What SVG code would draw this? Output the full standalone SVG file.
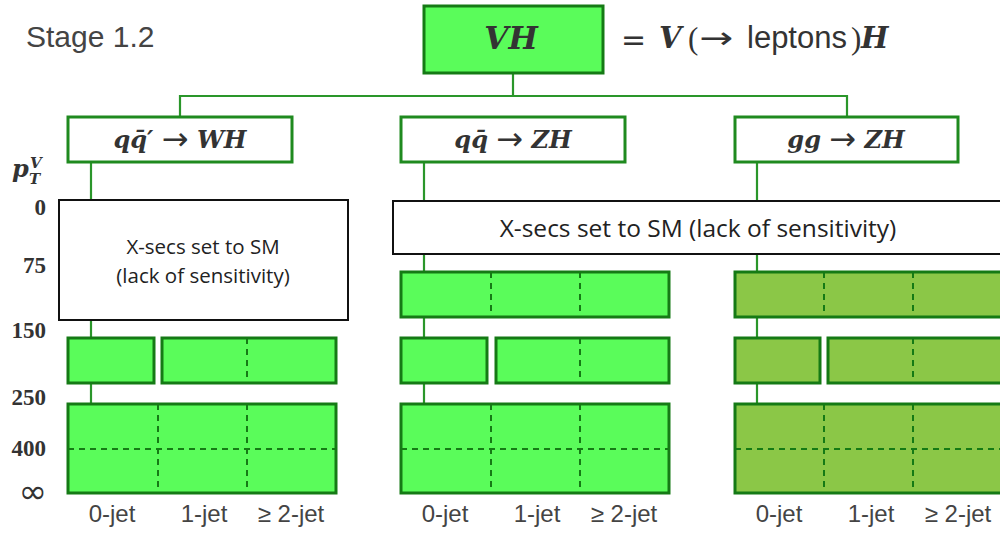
<svg xmlns="http://www.w3.org/2000/svg" width="1000" height="547" viewBox="0 0 1000 547">
<style>
.con{stroke:#2a962a;stroke-width:2.2;fill:none}
.hdr{fill:#fff;stroke:#1f8a1f;stroke-width:3}
.g1{fill:#5afc5a;stroke:#157a15;stroke-width:3}
.g2{fill:#8bc747;stroke:#157a15;stroke-width:3}
.dash{stroke:#157a15;stroke-width:2;stroke-dasharray:6 5;fill:none}
.wb{fill:#fff;stroke:#111;stroke-width:2}
.math{font-family:"DejaVu Serif",serif;font-weight:bold;font-style:italic;fill:#333}
.ax{font-family:"Liberation Serif",serif;font-weight:bold;font-size:23px;fill:#333;text-anchor:end}
.inf{font-family:"DejaVu Sans",sans-serif;font-size:34px;fill:#333;text-anchor:end}
.jet{font-family:"Liberation Sans",Arial,sans-serif;font-size:24px;fill:#444;text-anchor:middle}
.note{font-family:"Open Sans","Liberation Sans",sans-serif;fill:#222;text-anchor:middle}
.arr{font-family:"DejaVu Sans",sans-serif;font-style:normal;font-weight:normal;font-size:32px}
</style>
<rect width="1000" height="547" fill="#fff"/>
<text x="26" y="47" font-family="Liberation Sans, Arial, sans-serif" font-size="30" fill="#444">Stage 1.2</text>

<g id="connectors">
<path class="con" d="M513 73V96M180 117V96H847V117"/>
<path class="con" d="M91 162V404M424 162V404M757 162V404"/>
</g>

<g id="VH">
<rect x="424" y="6" width="179" height="67" class="g1"/>
<text x="511" y="49" class="math" font-size="31" text-anchor="middle">VH</text>
</g>
<g id="VH-def" fill="#333">
<text x="621" y="50" font-family="DejaVu Sans, sans-serif" font-size="30">=</text>
<text x="659" y="48" class="math" font-size="29">V</text>
<text x="688" y="49" font-family="Liberation Serif, serif" font-size="31">(</text>
<text x="699" y="48" font-family="DejaVu Sans, sans-serif" font-size="30" textLength="34" lengthAdjust="spacingAndGlyphs">→</text>
<text x="747" y="48" font-family="Liberation Sans, Arial, sans-serif" font-size="31">leptons</text>
<text x="851" y="49" font-family="Liberation Serif, serif" font-size="31">)</text>
<text x="861" y="48" class="math" font-size="29">H</text>
</g>

<g id="WH-header">
<rect x="68" y="117" width="224" height="45" class="hdr"/>
<text x="180" y="148" class="math" font-size="24" text-anchor="middle">qq̄′ <tspan class="arr" dy="2">→</tspan><tspan dy="-2"> WH</tspan></text>
</g>
<g id="ZH-header">
<rect x="401" y="117" width="224" height="45" class="hdr"/>
<text x="513" y="148" class="math" font-size="24" text-anchor="middle">qq̄ <tspan class="arr" dy="2">→</tspan><tspan dy="-2"> ZH</tspan></text>
</g>
<g id="ggZH-header">
<rect x="735" y="117" width="223" height="45" class="hdr"/>
<text x="846" y="148" class="math" font-size="24" text-anchor="middle">gg <tspan class="arr" dy="2">→</tspan><tspan dy="-2"> ZH</tspan></text>
</g>

<g id="axis">
<text x="12" y="177" class="math" font-size="24">p</text>
<text x="30" y="168" class="math" font-size="15">V</text>
<text x="29" y="184" class="math" font-size="15">T</text>
<text x="46" y="215" class="ax">0</text>
<text x="46" y="273" class="ax">75</text>
<text x="46" y="338" class="ax">150</text>
<text x="46" y="405" class="ax">250</text>
<text x="46" y="456" class="ax">400</text>
<text x="47" y="503" class="inf">∞</text>
</g>

<g id="WH-bins">
<rect x="68" y="338" width="86" height="45" class="g1"/>
<rect x="162" y="338" width="174" height="45" class="g1"/>
<path class="dash" d="M247 338V383"/>
<rect x="68" y="404" width="268" height="89" class="g1"/>
<path class="dash" d="M158 404V493M247 404V493M68 449H336"/>
</g>
<g id="ZH-bins">
<rect x="401" y="272" width="268" height="45" class="g1"/>
<path class="dash" d="M491 272V317M580 272V317"/>
<rect x="401" y="338" width="86" height="45" class="g1"/>
<rect x="496" y="338" width="173" height="45" class="g1"/>
<path class="dash" d="M580 338V383"/>
<rect x="401" y="404" width="268" height="89" class="g1"/>
<path class="dash" d="M491 404V493M580 404V493M401 449H669"/>
</g>
<g id="ggZH-bins">
<rect x="735" y="272" width="268" height="45" class="g2"/>
<path class="dash" d="M824 272V317M913 272V317"/>
<rect x="735" y="338" width="85" height="45" class="g2"/>
<rect x="828" y="338" width="175" height="45" class="g2"/>
<path class="dash" d="M913 338V383"/>
<rect x="735" y="404" width="268" height="89" class="g2"/>
<path class="dash" d="M824 404V493M913 404V493M735 449H1003"/>
</g>

<g id="WH-note">
<rect x="59" y="200" width="289" height="120" class="wb"/>
<text x="203" y="254" class="note" font-size="20.5">X-secs set to SM</text>
<text x="203" y="283" class="note" font-size="20.5">(lack of sensitivity)</text>
</g>
<g id="ZH-note">
<rect x="393" y="201" width="620" height="53" class="wb"/>
<text x="698" y="237" class="note" font-size="24.5">X-secs set to SM (lack of sensitivity)</text>
</g>

<g id="jet-labels">
<text x="112" y="522" class="jet">0-jet</text>
<text x="204" y="522" class="jet">1-jet</text>
<text x="291" y="522" class="jet">≥ 2-jet</text>
<text x="445" y="522" class="jet">0-jet</text>
<text x="537" y="522" class="jet">1-jet</text>
<text x="624" y="522" class="jet">≥ 2-jet</text>
<text x="779" y="522" class="jet">0-jet</text>
<text x="871" y="522" class="jet">1-jet</text>
<text x="958" y="522" class="jet">≥ 2-jet</text>
</g>
</svg>
